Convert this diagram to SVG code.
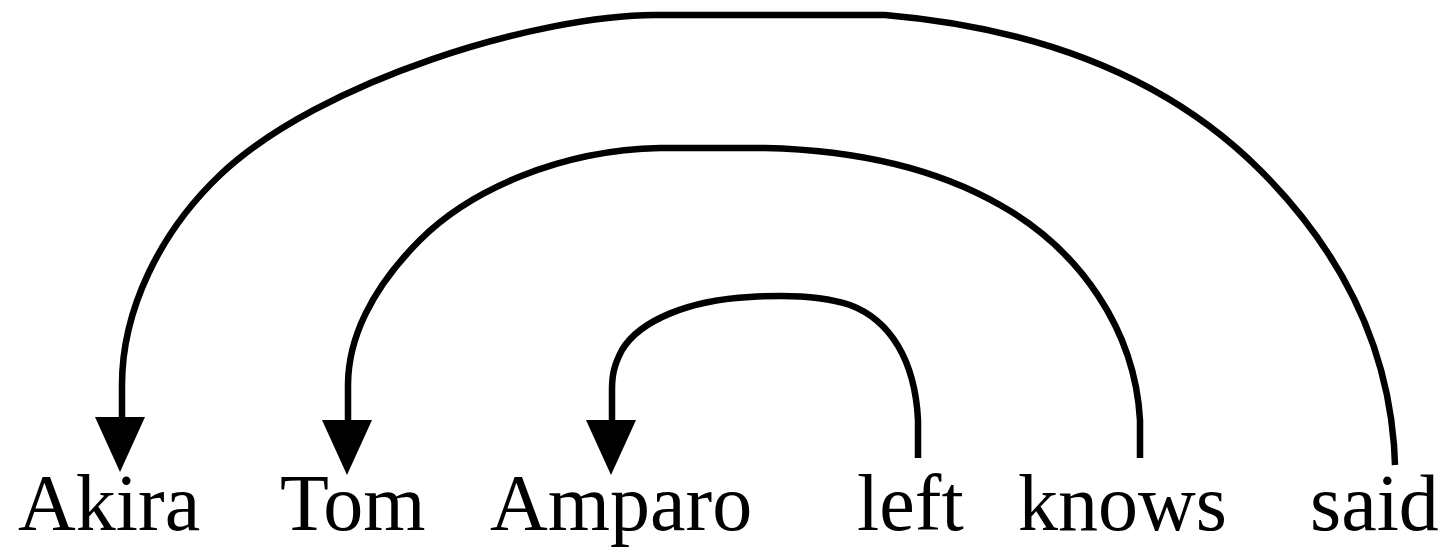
<svg xmlns="http://www.w3.org/2000/svg" width="1439" height="548" viewBox="0 0 1439 548">
<style>
.w{font-family:"Liberation Serif","Times New Roman",serif;font-size:80px;fill:#000}
.arc{fill:none;stroke:#000;stroke-width:6.5;stroke-linejoin:round}
.head{fill:#000}
</style>
<rect width="1439" height="548" fill="#fff"/>
<g id="connectors">
<path class="arc" d="M1395,465 L1394,445 C1385,330 1330,240 1260,170 C1180,90 1060,30 885,15 L655,15 C540,15 320,80 220,175 C160,232 122,310 122,385 L122,420"/>
<polygon class="head" points="95,417 145,417 120,472"/>
<path class="arc" d="M1140,458 L1140,420 C1135,330 1080,250 1000,205 C930,165 850,150 765,148 L660,148 C560,150 470,190 420,240 C370,290 348,340 348,385 L348,422"/>
<polygon class="head" points="322,420 372,420 347,475"/>
<path class="arc" d="M918,458 L918,420 C915,360 890,320 850,305 C820,295 780,295 750,297 C690,300 640,320 622,350 C614,365 612,375 612,390 L612,422"/>
<polygon class="head" points="586,420 636,420 611,475"/>
</g>
<g id="n-akira"><text class="w" x="18" y="530">Akira</text></g>
<g id="n-tom"><text class="w" x="280" y="530">Tom</text></g>
<g id="n-amparo"><text class="w" x="490" y="530">Amparo</text></g>
<g id="n-left"><text class="w" x="857" y="530">left</text></g>
<g id="n-knows"><text class="w" x="1018" y="530">knows</text></g>
<g id="n-said"><text class="w" x="1310" y="530">said</text></g>
</svg>
